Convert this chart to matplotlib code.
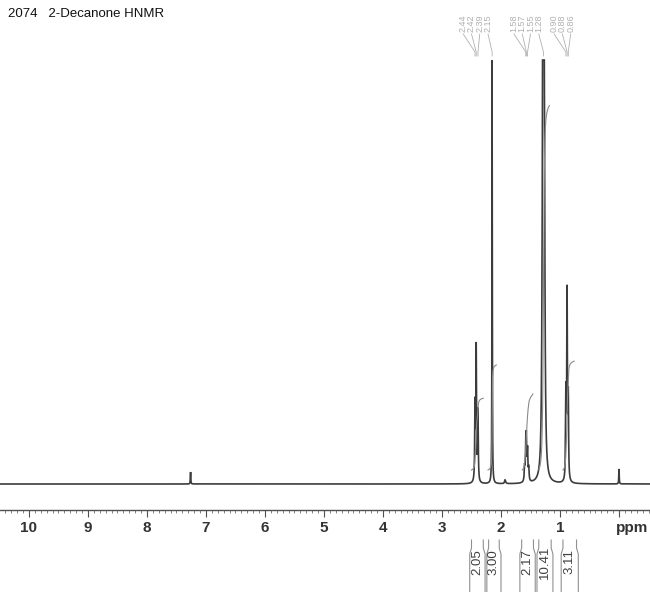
import numpy as np
import matplotlib.pyplot as plt
from matplotlib import font_manager
from matplotlib.ticker import MultipleLocator, FixedLocator

# ---- data ----
TITLE = "2074   2-Decanone HNMR"

peak_ppm    = [7.26, 2.44, 2.42, 2.39, 2.15, 1.93, 1.60, 1.58, 1.57, 1.55, 1.53,
               1.30, 1.29, 1.28, 1.27, 1.26, 0.90, 0.88, 0.86, 0.00]
peak_height = [12, 75, 133, 70, 520, 4, 14, 30, 38, 30, 12,
               120, 450, 900, 450, 120, 85, 185, 80, 15]
peak_hwhm   = [0.004, 0.006, 0.006, 0.006, 0.003, 0.01, 0.007, 0.007, 0.007, 0.007, 0.007,
               0.012, 0.005, 0.006, 0.005, 0.012, 0.006, 0.006, 0.006, 0.004]

label_groups = [[2.44, 2.42, 2.39, 2.15],
                [1.58, 1.57, 1.55, 1.28],
                [0.90, 0.88, 0.86]]

integral_from  = [2.50, 2.22, 1.64, 1.36, 0.95]
integral_to    = [2.30, 2.08, 1.46, 1.18, 0.76]
integral_value = [2.05, 3.00, 2.17, 10.41, 3.11]

bracket_from = [2.53, 2.24, 1.68, 1.39, 0.98]
bracket_to   = [2.27, 2.00, 1.42, 1.12, 0.69]

major_ticks = list(range(0, 11))
tick_labels = [""] + [str(i) for i in range(1, 11)]

# ---- fonts ----
names = {f.name for f in font_manager.fontManager.ttflist}
narrow = "Liberation Sans Narrow" if "Liberation Sans Narrow" in names else "Liberation Sans"

# ---- figure: one axes over the whole canvas, y in "pixels above baseline" ----
fig = plt.figure(figsize=(6.5, 5.92), dpi=100)
ax = fig.add_axes([0, 0, 1, 1])
ax.set_xlim(10.49, -0.525)
ax.set_ylim(-108, 484)
ax.set_facecolor("white")

CAP = 424          # tall peaks run off the plot here
INT_SCALE = 35.0   # integral curve height per proton
INT_OFFSET = 14.0

# spectrum from the peak list (Lorentzian lines)
x = np.linspace(-0.525, 10.49, 60000)
y = np.zeros_like(x)
for p, h, w in zip(peak_ppm, peak_height, peak_hwhm):
    y += h / (1.0 + ((x - p) / w) ** 2)
ax.plot(x, np.minimum(y, CAP), color="#3c3c3c", lw=1.2, solid_joinstyle="miter")

# integral curves over each region (accumulating left -> right, high ppm -> low)
for a, b, v in zip(integral_from, integral_to, integral_value):
    m = (x <= a) & (x >= b)
    xs = x[m][::-1]
    cs = np.cumsum(y[m][::-1])
    cs = cs / cs[-1] * v * INT_SCALE + INT_OFFSET
    ax.plot(xs, cs, color="#8a8a8a", lw=0.8)

# ---- bottom ppm axis ----
for s in ("left", "right", "top"):
    ax.spines[s].set_visible(False)
ax.spines["bottom"].set_position(("data", -26))
ax.spines["bottom"].set_color("#505050")
ax.spines["bottom"].set_linewidth(1.0)
ax.set_yticks([])
ax.xaxis.set_major_locator(FixedLocator(major_ticks))
ax.set_xticklabels(tick_labels, fontweight="bold", family="Liberation Sans",
                   fontsize=11, color="#333333")
ax.xaxis.set_minor_locator(MultipleLocator(0.1))
ax.tick_params(axis="x", which="major", direction="out", length=5, width=0.8,
               color="#505050", pad=3)
ax.tick_params(axis="x", which="minor", direction="out", length=2.2, width=0.6,
               color="#707070")
ax.text(-0.22, -44, "ppm", fontweight="bold", family="Liberation Sans",
        fontsize=11, color="#333333", ha="center", va="center")

# ---- integral brackets and values under the axis ----
neck = 0.03
for a, b, v in zip(bracket_from, bracket_to, integral_value):
    ax.plot([a - neck, a - neck, a, a], [-56, -64, -70, -108], color="#909090", lw=0.8)
    ax.plot([b + neck, b + neck, b, b], [-56, -64, -70, -108], color="#909090", lw=0.8)
    ax.text((a + b) / 2, -78, f"{v:.2f}", rotation=90, ha="center", va="center",
            family=narrow, fontsize=9.5, color="#404040")

# ---- peak-pick labels on top ----
for g in label_groups:
    for i, val in enumerate(g):
        lx = g[0] + 0.2 - 0.14 * i
        ax.text(lx, 452, f"{val:.2f}", rotation=90, ha="center", va="bottom",
                family=narrow, fontsize=6.5, color="#b0b0b0")
        ax.plot([lx, val, val], [450, 432, 428], color="#b0b0b0", lw=0.6)

# title
fig.text(8 / 650, 1 - 14 / 592, TITLE, ha="left", va="center",
         family="Liberation Sans", fontsize=9.5, color="#111111")

fig.savefig("out.png", dpi=100, facecolor="white")
